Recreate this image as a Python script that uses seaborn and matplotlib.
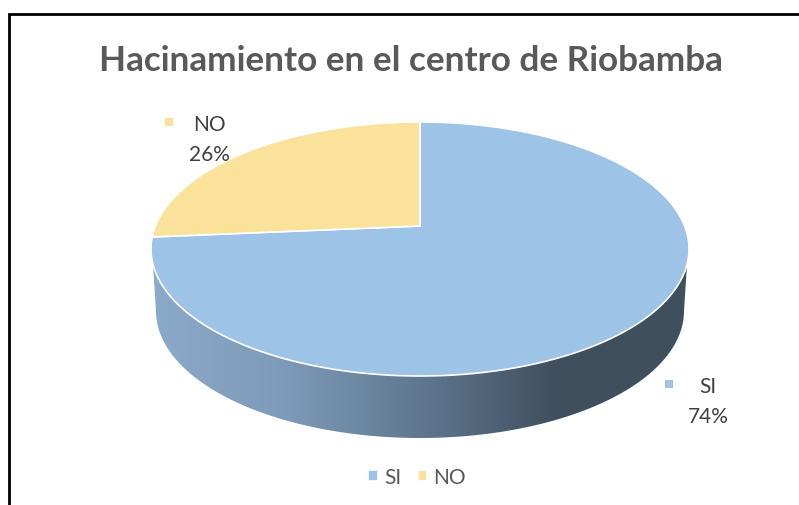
import numpy as np
import seaborn as sns
import matplotlib.pyplot as plt
from matplotlib.colors import LinearSegmentedColormap
from matplotlib.patches import Polygon
from matplotlib.path import Path
from matplotlib.transforms import Affine2D, Transform

title = "Hacinamiento en el centro de Riobamba"
categories = ["SI", "NO"]
values = [73.6, 26.4]
percent_labels = ["74%", "26%"]
slice_colors = ["#9DC3E6", "#FBE29A"]
wall_colors = ["#8CAAC9", "#7D9AB8", "#5F7890", "#404F5F", "#3F4F5E"]

sns.set_theme(style="white")
plt.rcParams["font.family"] = ["Lato", "DejaVu Sans"]

# top face of the pie in pixels: ellipse plus how far the apex sits above its middle
CX, CY, A, B, APEX = 420, 250, 269, 127, 23
K = APEX / B


class TiltTransform(Transform):
    # perspective view of the unit circle, output in pixel coordinates
    input_dims = output_dims = 2

    def transform_non_affine(self, xy):
        xy = np.asarray(xy)
        w = 1 + K * xy[:, 1]
        x = CX + A * np.sqrt(1 - K ** 2) * xy[:, 0] / w
        y = CY - (B * xy[:, 1] + APEX) / w
        return np.column_stack([x, y])

    def transform_path_non_affine(self, path):
        # flatten the curves at a large scale so the outline stays smooth
        big = path.to_polygons(Affine2D().scale(2000), closed_only=False)
        verts = np.vstack(big) / 2000
        return Path(self.transform_non_affine(verts), closed=True)


fig = plt.figure(figsize=(7.99, 5.06), dpi=100)
ax = fig.add_axes([0, 0, 1, 1])

palette = sns.color_palette(slice_colors)
wedges, _ = ax.pie(values, colors=palette, startangle=90, counterclock=False,
                   wedgeprops={"edgecolor": "white", "linewidth": 1.2})
ax.set_aspect("auto")
ax.axis("off")

tilt = TiltTransform() + ax.transData
for w in wedges:
    w.set_transform(tilt)
    w.set_zorder(3)

# side wall of the pie, shaded from left to right
t = np.linspace(np.pi, 0, 200)
wall_x = CX + 264 * np.cos(t)
wall_y = 312 + B * np.sin(t)
wall_pts = np.column_stack([
    np.r_[CX - A + 1, wall_x, CX + A - 1],
    np.r_[CY, wall_y, CY],
])
wall_clip = Polygon(wall_pts, closed=True, transform=ax.transData, fc="none", ec="none")
ax.add_patch(wall_clip)
cmap = LinearSegmentedColormap.from_list("wall", wall_colors)
im = ax.imshow(np.linspace(0, 1, 256)[None, :], cmap=cmap, aspect="auto",
               extent=[150, 690, 445, 240], zorder=2)
im.set_clip_path(wall_clip)
ax.set_xlim(0, 799)
ax.set_ylim(506, 0)

# frame of the pasted chart
ax.plot([9, 9, 799], [506, 15, 15], color="black", lw=2, solid_joinstyle="miter",
        zorder=5)

ax.text(411, 61, title, ha="center", va="center", fontsize=25.25, fontweight="bold",
        color="#595959")

label_pos = {"SI": (708, 402, 669, 385), "NO": (209, 140, 169, 123)}
for cat, pct, col in zip(categories, percent_labels, palette):
    tx, ty, mx, my = label_pos[cat]
    ax.text(tx, ty, f"{cat}\n{pct}", ha="center", va="center", fontsize=15,
            color="#404040", linespacing=1.6)
    ax.plot([mx], [my], marker="s", ms=5.5, color=col, mew=0)

leg = ax.legend(wedges, categories, loc="center", bbox_to_anchor=(417 / 799, 1 - 478 / 506),
                ncol=2, frameon=False, fontsize=15, handlelength=0.45, handleheight=0.45,
                handletextpad=0.3, columnspacing=0.8, labelcolor="#595959")

fig.savefig("out.png", dpi=100)
